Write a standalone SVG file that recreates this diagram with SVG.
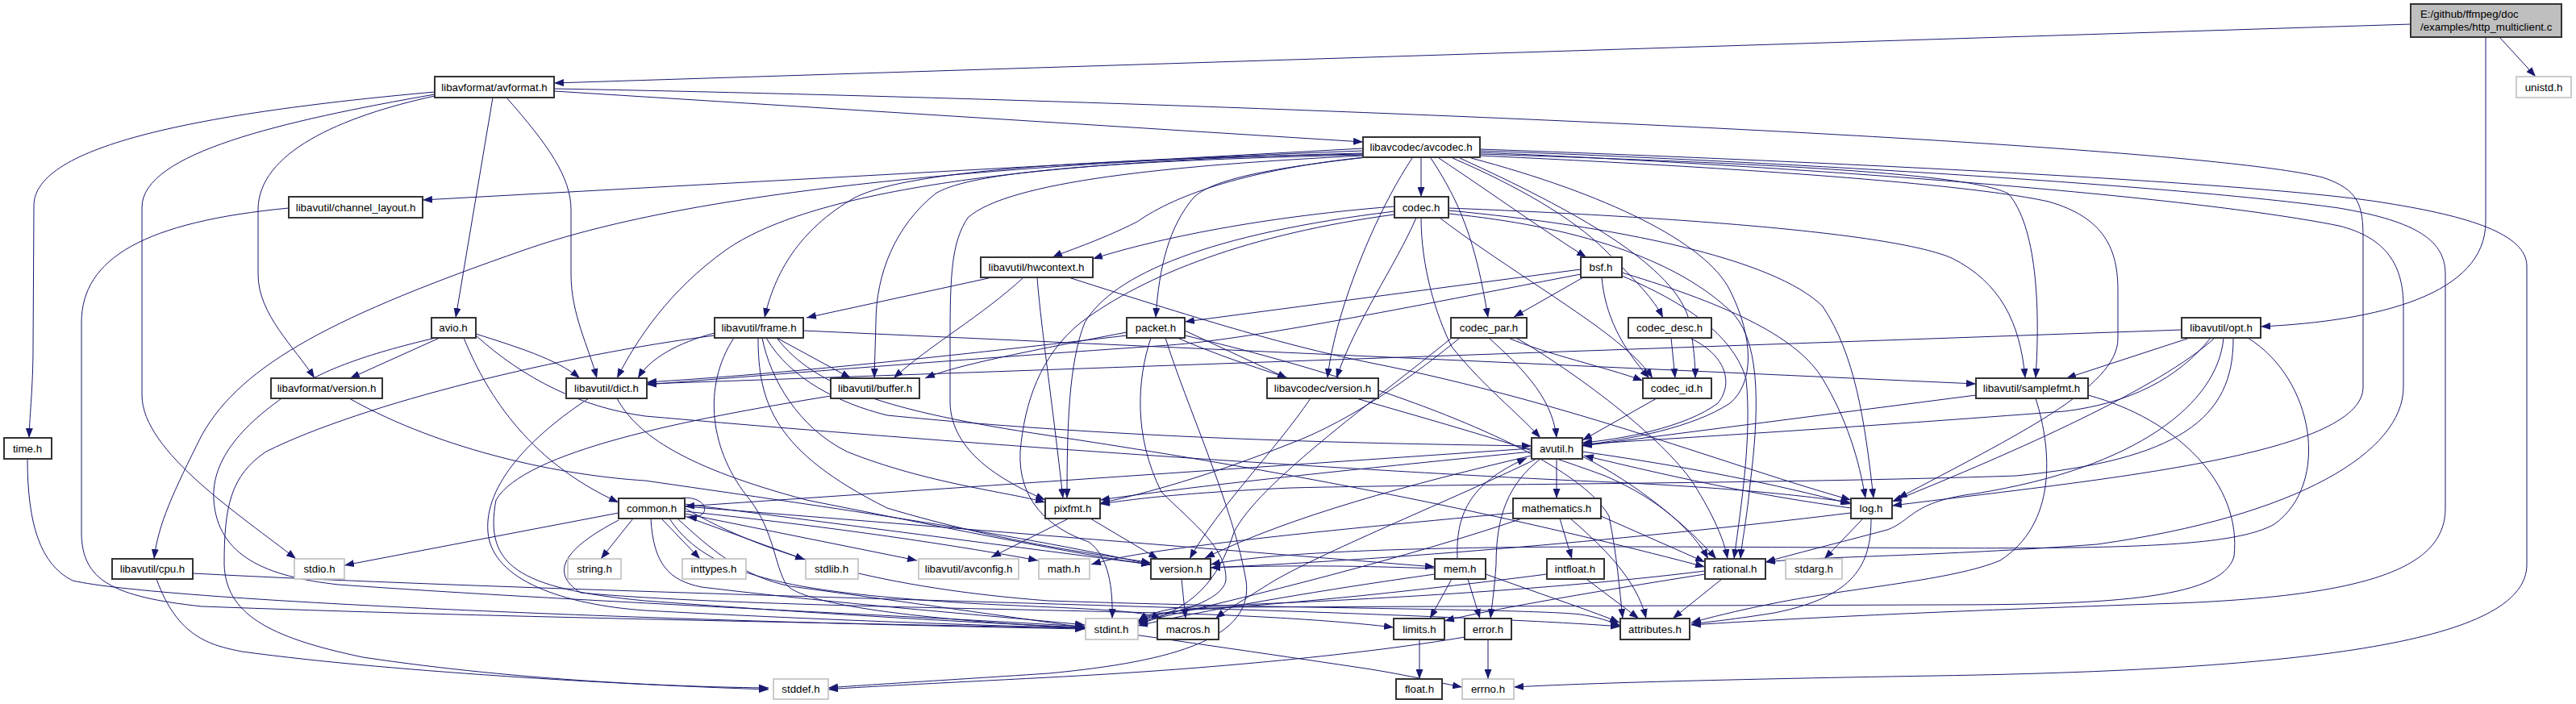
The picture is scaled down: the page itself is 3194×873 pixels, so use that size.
<svg xmlns="http://www.w3.org/2000/svg" width="3194" height="873" viewBox="0 0 3194 873">
<defs>
<marker id="a" markerUnits="userSpaceOnUse" markerWidth="12" markerHeight="9" refX="12" refY="4.5" orient="auto"><path d="M0,0 L12,4.5 L0,9 z" fill="#191970"/></marker>
<style>
.e path{fill:none;stroke:#191970;stroke-width:1;marker-end:url(#a)}
.n rect{fill:#ffffff;stroke:#333333;stroke-width:2}
.g rect{fill:#ffffff;stroke:#bfbfbf;stroke-width:1.6}
.r rect{fill:#bfbfbf;stroke:#333333;stroke-width:2}
text{font-family:"Liberation Sans",Arial,Helvetica,sans-serif;font-size:13.3px;fill:#000000;text-anchor:middle}
.r text{text-anchor:start}
</style>
</defs>
<rect x="0" y="0" width="3194" height="873" fill="#ffffff"/>
<g id="edges" class="e">
<path d="M2989,30 L687,103"/>
<path d="M3099,46 L3144,95"/>
<path d="M3082,46 L3082,275 C3082,365 2950,398 2803,405"/>
<path d="M687,113 L1690,176"/>
<path d="M687,110 C1500,125 2700,175 2880,220 C2925,235 2930,255 2930,295 L2930,480 C2930,565 2600,595 2346,627"/>
<path d="M539,114 C250,140 42,180 42,255 L41,430 C41,480 37,510 36,543"/>
<path d="M539,117 C350,150 176,190 176,257 L176,490 C176,560 300,640 367,693"/>
<path d="M539,119 C420,145 320,190 320,260 L320,340 C320,390 365,430 390,469"/>
<path d="M611,121 L565,394"/>
<path d="M628,121 C680,180 708,220 708,260 L708,340 C708,390 730,430 740,469"/>
<path d="M545,419 L434,469"/>
<path d="M575,419 C600,480 650,570 767,623"/>
<path d="M590,414 C640,430 690,445 719,469"/>
<path d="M590,416 C650,470 720,505 800,516 C1300,560 1800,590 2000,598 C2150,605 2240,615 2294,623"/>
<path d="M540,419 C450,440 400,460 370,480 C300,525 262,570 265,620 C270,690 330,715 420,725 C700,745 1100,762 1345,777"/>
<path d="M1690,184 L524,248"/>
<path d="M1690,187 C1200,205 850,240 650,310 C420,390 300,450 250,540 C215,610 196,650 191,693"/>
<path d="M1690,190 C1250,200 1000,240 900,310 C830,360 790,420 765,469"/>
<path d="M1690,191 C1300,198 1120,215 1060,245 C990,285 960,340 948,394"/>
<path d="M1692,195 C1550,210 1460,240 1410,275 C1360,300 1320,312 1305,319"/>
<path d="M1690,192 C1350,200 1200,215 1160,240 C1110,280 1086,340 1086,400 L1084,469"/>
<path d="M1690,193 C1450,205 1250,225 1200,270 C1180,300 1178,340 1178,420 L1178,500 C1180,560 1240,595 1296,620"/>
<path d="M1695,195 C1560,210 1500,225 1480,245 C1450,280 1437,330 1433,394"/>
<path d="M1751,196 C1715,250 1680,330 1660,400 C1652,430 1648,450 1646,469"/>
<path d="M1762,196 L1762,244"/>
<path d="M1774,196 C1810,250 1830,300 1845,394"/>
<path d="M1784,196 C1850,240 1920,290 1967,319"/>
<path d="M1801,196 C1880,230 1950,270 1990,310 C2030,350 2050,370 2062,394"/>
<path d="M1810,196 C1950,260 2080,330 2095,400 C2100,430 2102,450 2102,469"/>
<path d="M1824,196 C1990,240 2115,300 2145,360 C2175,420 2175,475 2145,500 C2100,530 2020,545 1962,552"/>
<path d="M1835,193 C2200,210 2450,230 2540,250 C2610,270 2626,310 2626,360 L2626,420 C2626,480 2500,540 2353,618"/>
<path d="M1835,191 C2200,203 2440,215 2490,240 C2525,280 2530,380 2524,469"/>
<path d="M1835,189 C2200,205 2700,240 2900,280 C2960,295 2980,330 2980,380 L2980,480 C2980,560 2850,640 2600,675 C2400,690 2250,690 2189,697"/>
<path d="M1835,187 C2200,200 2700,230 2900,258 C3000,275 3032,300 3032,340 L3032,630 C3032,700 2950,738 2700,748 C2400,758 2200,768 2097,775"/>
<path d="M1835,185 C2200,198 2800,225 2960,252 C3060,268 3133,290 3133,330 L3133,700 C3133,790 2900,830 2400,838 C2100,843 1950,848 1877,852"/>
<path d="M1729,256 C1550,270 1420,300 1355,321"/>
<path d="M1756,270 C1730,330 1680,400 1657,469"/>
<path d="M1762,270 C1762,330 1780,390 1800,430 C1840,480 1880,510 1910,543"/>
<path d="M1729,262 C1500,290 1380,340 1345,400 C1325,450 1323,530 1323,618"/>
<path d="M1729,266 C1550,290 1420,340 1340,400 C1290,440 1270,500 1265,560 C1262,620 1300,655 1350,672 C1375,690 1380,730 1379,767"/>
<path d="M1796,258 C2100,270 2350,290 2420,320 C2480,350 2505,400 2511,469"/>
<path d="M1796,265 C1950,280 2080,320 2150,390 C2185,430 2180,520 2170,600 C2165,650 2160,670 2158,693"/>
<path d="M1796,261 C2000,280 2200,320 2260,380 C2300,440 2312,520 2323,618"/>
<path d="M1785,270 C1850,320 1950,380 2000,420 C2025,440 2040,455 2049,469"/>
<path d="M1230,344 L1000,394"/>
<path d="M1269,344 C1220,390 1150,430 1108,469"/>
<path d="M1286,344 C1290,400 1305,500 1318,618"/>
<path d="M1325,344 C1500,400 1600,430 1700,450 C1950,500 2150,580 2295,620"/>
<path d="M1963,344 L1877,393"/>
<path d="M1960,334 L1469,399"/>
<path d="M1960,340 C1700,390 1550,420 1450,428 C1200,445 950,465 802,477"/>
<path d="M1986,344 C1990,390 2010,430 2045,469"/>
<path d="M2011,338 C2150,380 2230,420 2260,470 C2290,520 2305,570 2313,618"/>
<path d="M2011,342 C2100,380 2150,420 2165,470 C2172,540 2160,620 2150,693"/>
<path d="M2072,419 L2077,469"/>
<path d="M2095,419 C2140,440 2150,475 2130,500 C2090,530 2010,545 1962,549"/>
<path d="M1870,419 C1920,440 1990,455 2037,472"/>
<path d="M1846,419 C1880,450 1925,490 1930,543"/>
<path d="M1880,419 C1950,460 2060,540 2100,600 C2125,640 2138,670 2142,693"/>
<path d="M1810,419 C1760,460 1680,520 1600,550 C1500,590 1420,612 1364,624"/>
<path d="M1800,419 C1700,500 1560,600 1530,660 C1510,720 1480,755 1411,774"/>
<path d="M1397,412 C1250,440 1180,455 1147,469"/>
<path d="M1397,416 C1150,445 950,465 802,474"/>
<path d="M1469,410 L1596,469"/>
<path d="M1427,419 C1410,470 1405,540 1440,610 C1480,650 1522,680 1520,720 C1515,745 1460,760 1411,770"/>
<path d="M1445,419 C1470,500 1530,630 1545,720 C1555,790 1460,820 1300,835 C1150,845 1060,850 1027,853"/>
<path d="M1469,416 C1700,470 1950,560 1995,640 C2005,690 2008,730 2012,767"/>
<path d="M1460,419 C1600,480 1800,520 1990,590 C2060,620 2100,660 2118,693"/>
<path d="M996,410 L2450,476"/>
<path d="M886,413 C840,425 805,445 791,469"/>
<path d="M963,419 L1055,469"/>
<path d="M886,416 C700,440 450,500 330,560 C285,590 278,630 278,700 C280,760 330,790 450,815 C650,845 850,852 953,853"/>
<path d="M910,419 C870,480 880,560 930,620 C960,660 960,700 975,725 C1000,755 1200,772 1345,779"/>
<path d="M950,419 C980,470 1040,500 1100,515 C1400,545 1700,550 1899,553"/>
<path d="M945,419 C955,470 990,530 1050,560 C1150,600 1250,610 1296,623"/>
<path d="M963,419 C1010,480 1100,510 1300,540 C1700,600 1950,660 2114,703"/>
<path d="M940,419 C940,500 960,560 1100,630 C1250,675 1370,688 1427,698"/>
<path d="M433,494 C550,560 700,590 800,596 C1000,625 1250,660 1427,700"/>
<path d="M730,494 C660,540 600,600 605,660 C610,720 700,750 800,757 C1000,768 1200,775 1345,779"/>
<path d="M765,494 C790,540 850,580 1000,620 C1200,660 1350,690 1427,700"/>
<path d="M1030,491 C850,520 650,560 615,620 C600,700 640,730 800,745 C1000,760 1200,772 1345,778"/>
<path d="M1625,494 C1580,560 1510,630 1475,693"/>
<path d="M2054,494 L1962,546"/>
<path d="M2450,490 L1962,553"/>
<path d="M2524,494 C2545,560 2550,650 2480,695 C2420,720 2300,728 2200,748 C2150,758 2120,766 2097,772"/>
<path d="M2589,490 C2700,520 2780,600 2770,690 C2755,745 2600,750 2400,750 L1500,753 C1460,756 1430,762 1411,771"/>
<path d="M2705,409 L802,476"/>
<path d="M2715,419 L2562,469"/>
<path d="M2741,419 C2700,470 2640,500 2560,510 C2300,530 2100,542 1962,551"/>
<path d="M2746,419 C2680,480 2500,560 2346,622"/>
<path d="M2757,419 C2750,500 2650,580 2450,612 C2370,622 2372,645 2340,657 C2280,673 2220,688 2189,697"/>
<path d="M2769,419 C2770,520 2700,570 2500,590 C2200,600 1800,600 1600,605 C1450,612 1400,620 1364,625"/>
<path d="M2787,419 C2870,470 2890,600 2820,650 C2750,690 2500,678 2000,678 C1700,678 1560,688 1501,700"/>
<path d="M1899,556 L849,628"/>
<path d="M1910,569 C1870,600 1855,640 1855,700 C1853,730 1850,750 1848,767"/>
<path d="M1930,569 L1930,618"/>
<path d="M1962,566 C2030,600 2090,650 2128,693"/>
<path d="M1962,560 C2100,580 2200,600 2295,625"/>
<path d="M2295,630 C2150,610 2050,585 1964,565"/>
<path d="M1899,565 C1750,600 1600,640 1494,692"/>
<path d="M1899,560 C1700,580 1500,600 1364,620"/>
<path d="M1905,569 C1800,620 1650,680 1580,720 C1540,745 1520,757 1507,767"/>
<path d="M1934,643 L1949,693"/>
<path d="M1985,640 L2114,697"/>
<path d="M1947,643 C1990,680 2030,720 2041,767"/>
<path d="M1877,636 C1750,648 1600,662 1500,675 C1420,685 1380,692 1353,700"/>
<path d="M1887,643 C1750,690 1550,740 1411,772"/>
<path d="M2310,643 L2262,693"/>
<path d="M2320,643 C2320,700 2300,740 2200,760 C2150,768 2120,771 2097,774"/>
<path d="M2295,636 C2100,660 1800,690 1501,704"/>
<path d="M1325,643 L1229,691"/>
<path d="M1352,643 L1436,693"/>
<path d="M1465,718 L1470,767"/>
<path d="M785,643 L745,693"/>
<path d="M820,643 L868,693"/>
<path d="M849,640 L998,694"/>
<path d="M849,637 L1137,695"/>
<path d="M767,636 L427,701"/>
<path d="M849,634 C1000,650 1150,670 1287,695"/>
<path d="M849,625 L1427,700"/>
<path d="M849,628 L1779,703"/>
<path d="M830,643 C880,720 1000,735 1200,748 C1330,755 1410,755 1440,767"/>
<path d="M807,643 C810,700 830,720 870,728 C1050,750 1250,765 1345,775"/>
<path d="M767,645 C700,680 680,710 720,735 C900,752 1300,755 1500,762 C1600,766 1680,772 1728,778"/>
<path d="M840,643 C880,680 920,715 980,727 C1150,750 1500,800 1700,830 C1760,840 1790,848 1813,852"/>
<path d="M849,630 C950,690 1100,730 1300,745 C1600,755 1900,755 1960,762 C1985,766 2000,772 2009,776"/>
<path d="M840,618 C880,612 885,645 852,641"/>
<path d="M1807,693 C1805,640 1820,600 1893,568"/>
<path d="M1800,718 L1773,767"/>
<path d="M1820,718 L1835,767"/>
<path d="M1842,712 C1920,740 1980,760 2008,772"/>
<path d="M1779,712 C1650,730 1500,755 1411,776"/>
<path d="M1779,705 C1650,700 1550,702 1501,704"/>
<path d="M1967,718 L2032,767"/>
<path d="M1918,712 C1700,740 1550,752 1480,756 C1450,758 1425,762 1411,770"/>
<path d="M2135,718 L2074,767"/>
<path d="M2114,712 C2000,730 1850,755 1791,770"/>
<path d="M2114,708 C1900,735 1600,748 1480,752 C1450,754 1425,760 1411,770"/>
<path d="M1845,793 L1845,842"/>
<path d="M1816,790 C1700,810 1500,830 1300,840 C1150,848 1060,852 1027,855"/>
<path d="M1760,793 L1760,842"/>
<path d="M358,258 C180,275 101,320 101,400 L101,660 C101,720 140,740 250,752 C600,765 1000,772 1345,779"/>
<path d="M34,569 C34,650 50,700 90,720 C200,745 800,770 1345,780"/>
<path d="M239,711 C600,730 1200,745 1600,758 C1800,765 1950,772 2009,777"/>
<path d="M194,718 C220,790 260,800 300,808 C500,835 800,850 953,855"/>
</g>
<g id="n_root" class="r"><rect x="2989" y="5" width="187" height="41"/><text x="3001" y="21.5">E:/github/ffmpeg/doc</text><text x="3001" y="37.5">/examples/http_multiclient.c</text></g>
<g id="n_avformat" class="n"><rect x="539" y="95" width="148" height="26"/><text x="613" y="112.6">libavformat/avformat.h</text></g>
<g id="n_unistd" class="g"><rect x="3120" y="95" width="68" height="26"/><text x="3154" y="112.6">unistd.h</text></g>
<g id="n_avcodec" class="n"><rect x="1690" y="170" width="145" height="25"/><text x="1762" y="187.1">libavcodec/avcodec.h</text></g>
<g id="n_channel_layout" class="n"><rect x="358" y="244" width="166" height="26"/><text x="441" y="261.6">libavutil/channel_layout.h</text></g>
<g id="n_codec" class="n"><rect x="1729" y="244" width="67" height="26"/><text x="1762" y="261.6">codec.h</text></g>
<g id="n_hwcontext" class="n"><rect x="1216" y="319" width="139" height="25"/><text x="1285" y="336.1">libavutil/hwcontext.h</text></g>
<g id="n_bsf" class="n"><rect x="1960" y="319" width="51" height="25"/><text x="1985" y="336.1">bsf.h</text></g>
<g id="n_avio" class="n"><rect x="535" y="394" width="55" height="25"/><text x="562" y="411.1">avio.h</text></g>
<g id="n_frame" class="n"><rect x="886" y="394" width="110" height="25"/><text x="941" y="411.1">libavutil/frame.h</text></g>
<g id="n_packet" class="n"><rect x="1397" y="394" width="72" height="25"/><text x="1433" y="411.1">packet.h</text></g>
<g id="n_codec_par" class="n"><rect x="1799" y="394" width="94" height="25"/><text x="1846" y="411.1">codec_par.h</text></g>
<g id="n_codec_desc" class="n"><rect x="2019" y="394" width="103" height="25"/><text x="2070" y="411.1">codec_desc.h</text></g>
<g id="n_opt" class="n"><rect x="2705" y="394" width="98" height="25"/><text x="2754" y="411.1">libavutil/opt.h</text></g>
<g id="n_lavf_version" class="n"><rect x="336" y="469" width="138" height="25"/><text x="405" y="486.1">libavformat/version.h</text></g>
<g id="n_dict" class="n"><rect x="702" y="469" width="100" height="25"/><text x="752" y="486.1">libavutil/dict.h</text></g>
<g id="n_buffer" class="n"><rect x="1030" y="469" width="110" height="25"/><text x="1085" y="486.1">libavutil/buffer.h</text></g>
<g id="n_lavc_version" class="n"><rect x="1571" y="469" width="138" height="25"/><text x="1640" y="486.1">libavcodec/version.h</text></g>
<g id="n_codec_id" class="n"><rect x="2037" y="469" width="85" height="25"/><text x="2079" y="486.1">codec_id.h</text></g>
<g id="n_samplefmt" class="n"><rect x="2450" y="469" width="139" height="25"/><text x="2519" y="486.1">libavutil/samplefmt.h</text></g>
<g id="n_time" class="n"><rect x="5" y="543" width="59" height="26"/><text x="34" y="560.6">time.h</text></g>
<g id="n_avutil" class="n"><rect x="1899" y="543" width="63" height="26"/><text x="1930" y="560.6">avutil.h</text></g>
<g id="n_common" class="n"><rect x="767" y="618" width="82" height="25"/><text x="808" y="635.1">common.h</text></g>
<g id="n_pixfmt" class="n"><rect x="1296" y="618" width="68" height="25"/><text x="1330" y="635.1">pixfmt.h</text></g>
<g id="n_mathematics" class="n"><rect x="1876" y="618" width="109" height="25"/><text x="1930" y="635.1">mathematics.h</text></g>
<g id="n_log" class="n"><rect x="2295" y="618" width="51" height="25"/><text x="2320" y="635.1">log.h</text></g>
<g id="n_cpu" class="n"><rect x="139" y="693" width="100" height="25"/><text x="189" y="710.1">libavutil/cpu.h</text></g>
<g id="n_stdio" class="g"><rect x="365" y="693" width="62" height="25"/><text x="396" y="710.1">stdio.h</text></g>
<g id="n_string" class="g"><rect x="704" y="693" width="66" height="25"/><text x="737" y="710.1">string.h</text></g>
<g id="n_inttypes" class="g"><rect x="846" y="693" width="79" height="25"/><text x="885" y="710.1">inttypes.h</text></g>
<g id="n_stdlib" class="g"><rect x="999" y="693" width="65" height="25"/><text x="1031" y="710.1">stdlib.h</text></g>
<g id="n_avconfig" class="g"><rect x="1139" y="693" width="124" height="25"/><text x="1201" y="710.1">libavutil/avconfig.h</text></g>
<g id="n_math" class="g"><rect x="1288" y="693" width="63" height="25"/><text x="1319" y="710.1">math.h</text></g>
<g id="n_version" class="n"><rect x="1427" y="693" width="74" height="25"/><text x="1464" y="710.1">version.h</text></g>
<g id="n_mem" class="n"><rect x="1779" y="693" width="63" height="25"/><text x="1810" y="710.1">mem.h</text></g>
<g id="n_intfloat" class="n"><rect x="1918" y="693" width="71" height="25"/><text x="1953" y="710.1">intfloat.h</text></g>
<g id="n_rational" class="n"><rect x="2114" y="693" width="75" height="25"/><text x="2151" y="710.1">rational.h</text></g>
<g id="n_stdarg" class="g"><rect x="2214" y="693" width="70" height="25"/><text x="2249" y="710.1">stdarg.h</text></g>
<g id="n_stdint" class="g"><rect x="1346" y="767" width="65" height="26"/><text x="1378" y="784.6">stdint.h</text></g>
<g id="n_macros" class="n"><rect x="1435" y="767" width="76" height="26"/><text x="1473" y="784.6">macros.h</text></g>
<g id="n_limits" class="n"><rect x="1728" y="767" width="63" height="26"/><text x="1760" y="784.6">limits.h</text></g>
<g id="n_error" class="n"><rect x="1816" y="767" width="58" height="26"/><text x="1845" y="784.6">error.h</text></g>
<g id="n_attributes" class="n"><rect x="2009" y="767" width="86" height="26"/><text x="2052" y="784.6">attributes.h</text></g>
<g id="n_float" class="n"><rect x="1731" y="842" width="57" height="25"/><text x="1760" y="859.1">float.h</text></g>
<g id="n_errno" class="g"><rect x="1813" y="842" width="64" height="25"/><text x="1845" y="859.1">errno.h</text></g>
<g id="n_stddef" class="g"><rect x="959" y="842" width="68" height="25"/><text x="993" y="859.1">stddef.h</text></g>
</svg>
